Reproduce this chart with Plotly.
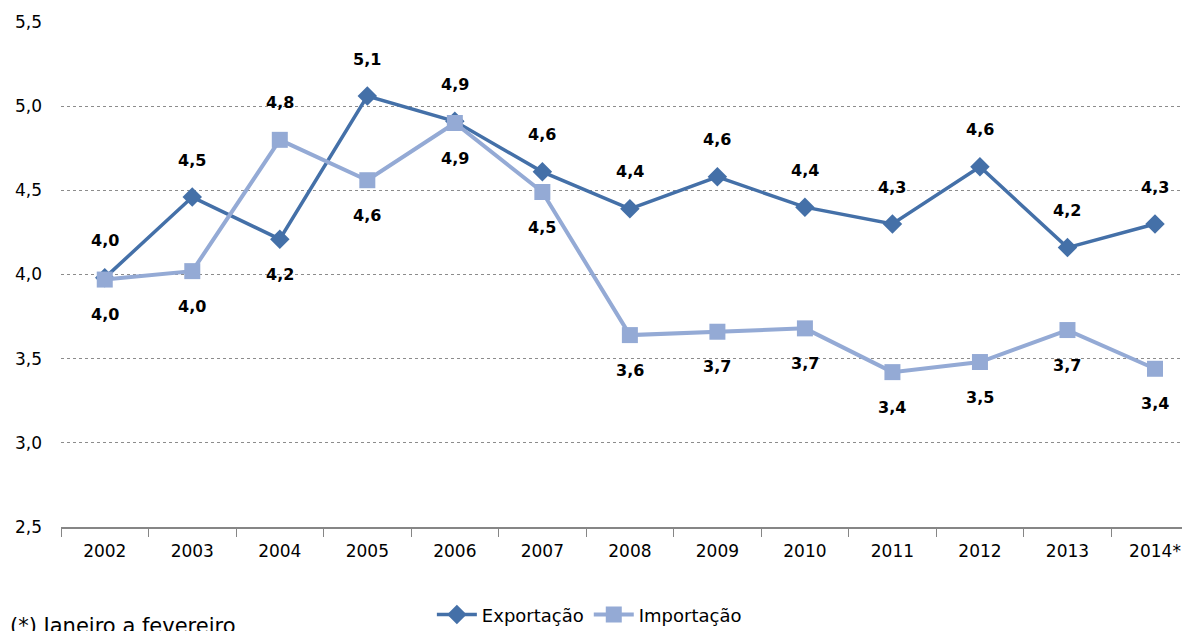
import plotly.graph_objects as go

# valores
anos = ["2002", "2003", "2004", "2005", "2006", "2007", "2008",
        "2009", "2010", "2011", "2012", "2013", "2014*"]
exportacao = [3.98, 4.46, 4.21, 5.06, 4.91, 4.61, 4.39, 4.58, 4.40, 4.30, 4.64, 4.16, 4.30]
importacao = [3.97, 4.02, 4.80, 4.56, 4.90, 4.49, 3.64, 3.66, 3.68, 3.42, 3.48, 3.67, 3.44]
# posição do rótulo: 1 = acima, -1 = abaixo
lado_exp = [1, 1, -1, 1, 1, 1, 1, 1, 1, 1, 1, 1, 1]
lado_imp = [-1, -1, 1, -1, -1, -1, -1, -1, -1, -1, -1, -1, -1]

cor_exp = "#4470A8"
cor_imp = "#94AAD5"
label_font = dict(family="DejaVu Sans", size=16, color="black")

fig = go.Figure()
fig.add_trace(go.Scatter(
    x=anos, y=exportacao, name="Exportação", mode="lines+markers",
    line=dict(color=cor_exp, width=3.5),
    marker=dict(symbol="diamond", size=15, color=cor_exp),
))
fig.add_trace(go.Scatter(
    x=anos, y=importacao, name="Importação", mode="lines+markers",
    line=dict(color=cor_imp, width=4),
    marker=dict(symbol="square", size=16, color=cor_imp),
))

# rótulos de dados (x pelo índice da categoria, senão "2002" vira número)
for serie, lados in [(exportacao, lado_exp), (importacao, lado_imp)]:
    for i, (v, s) in enumerate(zip(serie, lados)):
        fig.add_annotation(
            x=i, y=v, text="<b>" + f"{v:.1f}".replace(".", ",") + "</b>",
            showarrow=False, yshift=(37 if s > 0 else 35) * s, font=label_font,
        )

fig.add_annotation(
    xref="paper", yref="paper", x=-0.047, y=-0.196, xanchor="left", yanchor="middle",
    text="(*) Janeiro a fevereiro", showarrow=False,
    font=dict(family="DejaVu Sans", size=21, color="black"),
)

# a página tem 8px de margem no body: figura 8px menor, margens compensadas
fig.update_layout(
    width=1182, height=623,
    margin=dict(l=53, r=0, t=14, b=104, autoexpand=False),
    paper_bgcolor="white", plot_bgcolor="white",
    separators=",.",
    font=dict(family="DejaVu Sans", size=16, color="black"),
    legend=dict(
        orientation="h", x=0.468, y=-0.174, xanchor="center", yanchor="middle",
        font=dict(family="DejaVu Sans", size=18, color="black"),
        itemwidth=40,
    ),
)
fig.update_xaxes(
    type="category", range=[-0.5, 12.4], automargin=False,
    showline=True, linecolor="#868686", linewidth=1.5,
    ticks="outside", tickson="boundaries", ticklen=8, tickcolor="#868686",
    ticklabelstandoff=8, showgrid=False,
    tickfont=dict(family="DejaVu Sans", size=17),
)
fig.update_yaxes(
    range=[2.5, 5.5], dtick=0.5, tickformat=".1f", automargin=False,
    showgrid=True, gridcolor="#8C8C8C", griddash="dot", gridwidth=1,
    zeroline=False, showline=False, ticklabelstandoff=18,
    tickfont=dict(family="DejaVu Sans", size=17),
)

fig.write_html("out.html")
